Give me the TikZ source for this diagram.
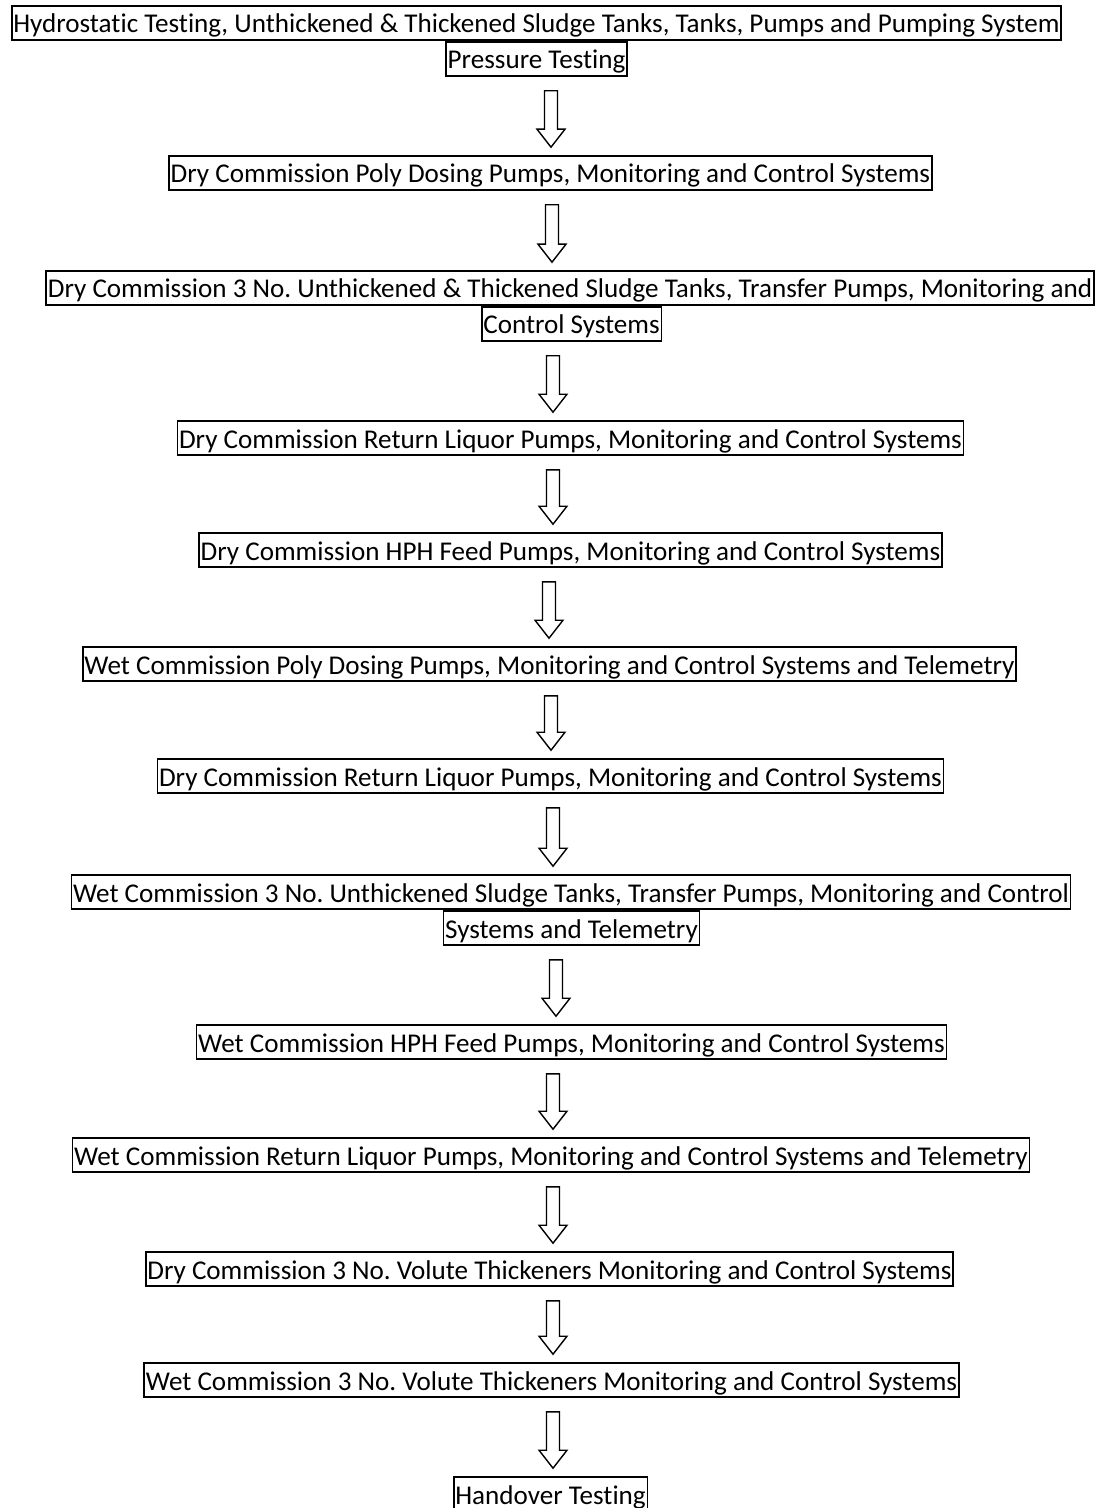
\documentclass[tikz,border=0pt]{standalone}
\usepackage{fontspec}
\setmainfont{Carlito}[Ligatures=NoCommon]
\usetikzlibrary{calc}

\begin{document}
\frenchspacing
\begin{tikzpicture}[x=0.5pt, y=-0.5pt,
    stage/.style={draw, line width=0.8pt, inner xsep=0.8pt, inner ysep=0pt,
        text height=13.5pt, text depth=3.5pt, font=\fontsize{13.55}{16}\selectfont},
    hollow/.style={draw, line width=0.7pt, fill=white, line join=miter}]
    % page frame
    \useasboundingbox (0,0) rectangle (1097,1508);

    % stages, one boxed line each
    \node[stage] (b1a) at (536.5,23) {Hydrostatic Testing, Unthickened \& Thickened Sludge Tanks, Tanks, Pumps and Pumping System};
    \node[stage] (b1b) at (536.5,59) {Pressure Testing};
    \node[stage] (b2) at (550.5,173) {Dry Commission Poly Dosing Pumps, Monitoring and Control Systems};
    \node[stage] (b3a) at (570,288) {Dry Commission 3 No. Unthickened \& Thickened Sludge Tanks, Transfer Pumps, Monitoring and};
    \node[stage] (b3b) at (571.5,324) {Control Systems};
    \node[stage] (b4) at (570.5,438) {Dry Commission Return Liquor Pumps, Monitoring and Control Systems};
    \node[stage] (b5) at (570.5,550) {Dry Commission HPH Feed Pumps, Monitoring and Control Systems};
    \node[stage] (b6) at (549.5,664) {Wet Commission Poly Dosing Pumps, Monitoring and Control Systems and Telemetry};
    \node[stage] (b7) at (550.5,776) {Dry Commission Return Liquor Pumps, Monitoring and Control Systems};
    \node[stage] (b8a) at (571,892) {Wet Commission 3 No. Unthickened Sludge Tanks, Transfer Pumps, Monitoring and Control};
    \node[stage] (b8b) at (571.5,928) {Systems and Telemetry};
    \node[stage] (b9) at (571.5,1042) {Wet Commission HPH Feed Pumps, Monitoring and Control Systems};
    \node[stage] (b10) at (551,1155) {Wet Commission Return Liquor Pumps, Monitoring and Control Systems and Telemetry};
    \node[stage] (b11) at (549.5,1269) {Dry Commission 3 No. Volute Thickeners Monitoring and Control Systems};
    \node[stage] (b12) at (551.5,1380) {Wet Commission 3 No. Volute Thickeners Monitoring and Control Systems};
    \node[stage] (b13) at (550.5,1494) {Handover Testing};

    % hollow down arrows between the stages
    \foreach \ax/\src/\dst in {551/b1b/b2, 552/b2/b3a, 553/b3b/b4, 553/b4/b5,
        549/b5/b6, 551/b6/b7, 553/b7/b8a, 556/b8b/b9, 553/b9/b10,
        553/b10/b11, 553/b11/b12, 553/b12/b13}
      \draw[hollow] let \p1=(\ax,0 |- \src.south), \p2=(\ax,0 |- \dst.north) in
        ($(\p1)+(-6.5,14)$) -- ($(\p1)+(6.5,14)$) -- ($(\p2)+(6.5,-26)$)
        -- ($(\p2)+(14,-26)$) -- ($(\p2)+(0,-8)$) -- ($(\p2)+(-14,-26)$)
        -- ($(\p2)+(-6.5,-26)$) -- cycle;

\end{tikzpicture}
\end{document}
